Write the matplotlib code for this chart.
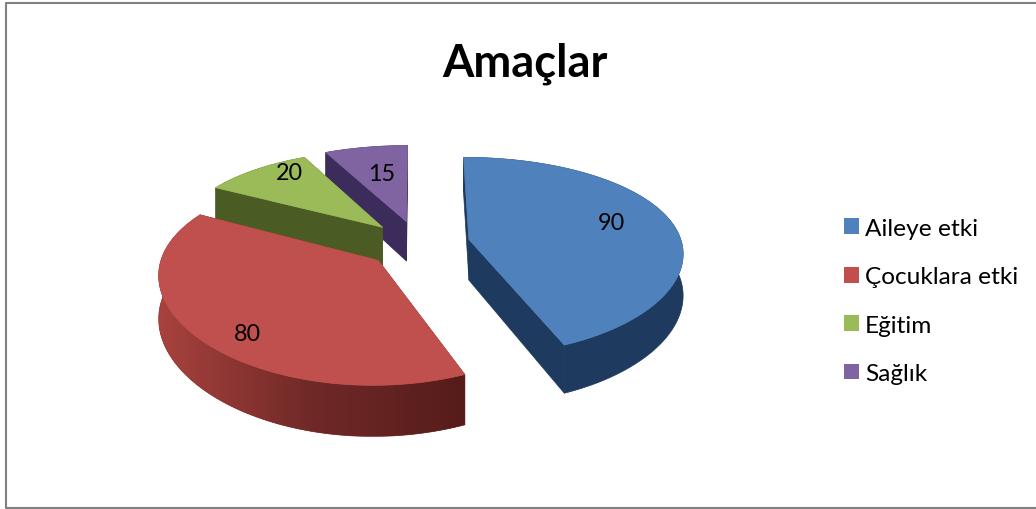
import numpy as np
import matplotlib
matplotlib.use('Agg')
import matplotlib.pyplot as plt
from matplotlib.patches import Polygon, Patch
from matplotlib.colors import LinearSegmentedColormap

labels = ['Aileye etki', 'Çocuklara etki', 'Eğitim', 'Sağlık']
values = [90, 80, 20, 15]
top_colors = ['#4f81bd', '#c0504d', '#9bbb59', '#8064a2']
side_colors = ['#1e3a5f', '#7a2f2d', '#4a5c24', '#3b2c5c']

# layout of the fake 3d pie, in pixels
cx, cy = 418, 245
rx, ry = 213, 97.5
explode = 0.245
persp_x = 0.12
persp_y = 0.17
depth = 41
radius = [1, 1, 0.97, 0.98]

plt.rcParams['font.family'] = ['Lato', 'DejaVu Sans']

fig = plt.figure(figsize=(10.36, 5.10), dpi=100)
ax = fig.add_axes([0, 0, 1, 1])
ax.set_xlim(0, 1036)
ax.set_ylim(510, 0)
ax.axis('off')

# chart frame, open on the right like the screenshot
ax.plot([1036, 6, 6, 1036], [4, 4, 509, 509], color='#808080', lw=1.5, zorder=1)


def project(u, v, z=0.0):
    # u to the right, v towards the back, z downwards
    wx = 1 / (1 + persp_x * v)
    wy = 1 / (1 + persp_y * v)
    return cx + rx * u * wx, cy - ry * v * wy + depth * z * wy


order = 2


def poly(p, color):
    global order
    order += 1
    patch = Polygon(p, closed=True, fc=color, ec=color, lw=0.5, zorder=order)
    ax.add_patch(patch)
    return patch


edges = np.concatenate([[0], np.cumsum(values)]) / sum(values) * 2 * np.pi
wedges = []
for i in range(len(values)):
    mid = (edges[i] + edges[i + 1]) / 2
    wedges.append((edges[i], edges[i + 1], explode * np.sin(mid), explode * np.cos(mid)))

# radial position of the number on each wedge, then a nudge in pixels
label_r = [0.69, 0.78, 0.70, 0.59]
label_dx = [2, 7, 0, 1]
label_dy = [-5, 14, -12, -1]

red_rim = LinearSegmentedColormap.from_list('rim', ['#a8423e', '#6f2927', '#561c1a'])

# back to front
for i in [3, 2, 0, 1]:
    a0, a1, ou, ov = wedges[i]
    r = radius[i]
    t = np.linspace(a0, a1, 120)
    u = ou + r * np.sin(t)
    v = ov + r * np.cos(t)
    for a in (a0, a1):
        eu, ev = ou + r * np.sin(a), ov + r * np.cos(a)
        poly([project(ou, ov), project(eu, ev), project(eu, ev, 1), project(ou, ov, 1)],
             side_colors[i])
    upper = [project(a, b) for a, b in zip(u, v)]
    lower = [project(a, b, 1) for a, b in zip(u, v)]
    rim = poly(upper + lower[::-1], side_colors[i])
    if i == 1:
        # the red rim gets darker towards the right
        order += 1
        xs = [p[0] for p in upper + lower]
        ys = [p[1] for p in upper + lower]
        grad = np.linspace(0, 1, 256)[None, :]
        im = ax.imshow(grad, cmap=red_rim, aspect='auto', zorder=order,
                       extent=[min(xs), max(xs), max(ys), min(ys)])
        im.set_clip_path(rim)
        ax.set_xlim(0, 1036)
        ax.set_ylim(510, 0)
    poly([project(ou, ov)] + upper, top_colors[i])

for i in range(len(values)):
    a0, a1, ou, ov = wedges[i]
    mid = (a0 + a1) / 2
    x, y = project(ou + label_r[i] * np.sin(mid), ov + label_r[i] * np.cos(mid))
    ax.text(x + label_dx[i], y + label_dy[i], str(values[i]), fontsize=16.8, color='black',
            ha='center', va='center', zorder=100)

ax.text(525, 64, 'Amaçlar', fontsize=32.6, fontweight='bold', color='black',
        ha='center', va='center')

handles = [Patch(fc=c, ec='none') for c in top_colors]
ax.legend(handles, labels, loc='center left', bbox_to_anchor=(844 / 1036, 1 - 302 / 510),
          frameon=False, fontsize=17.6, handlelength=0.61, handleheight=0.61,
          handletextpad=0.25, labelspacing=1.12, borderpad=0, borderaxespad=0)

fig.savefig('out.png', dpi=100)
